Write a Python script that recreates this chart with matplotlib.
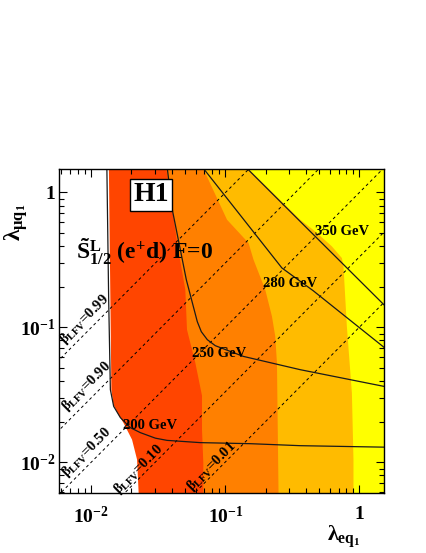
import numpy as np
import matplotlib
matplotlib.use('Agg')
import matplotlib.pyplot as plt
from matplotlib.ticker import NullFormatter

plt.rcParams['font.family'] = ['Liberation Serif', 'DejaVu Serif']
plt.rcParams['font.weight'] = 'bold'
plt.rcParams['mathtext.fontset'] = 'custom'
plt.rcParams['mathtext.rm'] = 'Liberation Serif:bold'
plt.rcParams['mathtext.it'] = 'Liberation Serif:bold'
plt.rcParams['mathtext.bf'] = 'Liberation Serif:bold'

XLIM = (0.0058, 1.52)
YLIM = (0.0059, 1.5)

# region edges, top -> bottom  (lambda_eq1, lambda_muq1)
white_red_x = [0.01357, 0.01392, 0.01416, 0.01465, 0.01597, 0.01740, 0.02019, 0.02201, 0.02262]
white_red_y = [1.5, 0.1603, 0.03455, 0.02676, 0.02256, 0.01968, 0.01473, 0.01047, 0.0059]

red_orange_x = [0.03636, 0.04029, 0.04467, 0.05037, 0.05184, 0.05977, 0.06707, 0.06707, 0.06859, 0.06859]
red_orange_y = [1.5, 0.7445, 0.3762, 0.1902, 0.0961, 0.0548, 0.0312, 0.01747, 0.00995, 0.0059]

orange_amber_x = [0.06859, 0.1030, 0.1491, 0.1624, 0.1985, 0.2227, 0.2357, 0.2427, 0.2494]
orange_amber_y = [1.5, 0.6279, 0.4218, 0.3171, 0.1902, 0.1207, 0.0858, 0.0545, 0.0059]

amber_yellow_x = [0.1483, 0.3618, 0.4679, 0.6232, 0.7393, 0.7601, 0.8055, 0.8780, 0.9022, 0.9022]
amber_yellow_y = [1.5, 0.6279, 0.5143, 0.3981, 0.3266, 0.2830, 0.1017, 0.03266, 0.01047, 0.0059]

# mass contours
m200_x = [0.01311, 0.01352, 0.01392, 0.01473, 0.01653, 0.01962, 0.02329, 0.03012, 0.0368, 0.06515, 0.1535, 0.3618, 1.52]
m200_y = [1.5, 0.1603, 0.03455, 0.02599, 0.02144, 0.01807, 0.0166, 0.01511, 0.01455, 0.0140, 0.01375, 0.01329, 0.01296]
m250_x = [0.03699, 0.04029, 0.04624, 0.05124, 0.05776, 0.06187, 0.06628, 0.07345, 0.08424, 0.1361, 0.3618, 1.52]
m250_y = [1.5, 0.7445, 0.3762, 0.2256, 0.1431, 0.1102, 0.0929, 0.0811, 0.0732, 0.0610, 0.0486, 0.03656]
m280_x = [0.06893, 0.2644, 0.4522, 1.52]
m280_y = [1.5, 0.2754, 0.1869, 0.0713]
m350_x = [0.1458, 0.4294, 1.52]
m350_y = [1.5, 0.5143, 0.1473]

mass_labels = ['200 GeV', '250 GeV', '280 GeV', '350 GeV']
mass_label_x = [0.02763, 0.0902, 0.3048, 0.7432]
mass_label_y = [0.0188, 0.0639, 0.2107, 0.5115]

beta_values = [0.99, 0.90, 0.50, 0.10, 0.01]
beta_label_x = [0.00892, 0.00923, 0.00923, 0.0225, 0.0787]
beta_label_y = [0.114, 0.0364, 0.0118, 0.00883, 0.00929]

xticks = [0.01, 0.1, 1]
xtick_labels = [r'$10^{-2}$', r'$10^{-1}$', '1']
yticks = [0.01, 0.1, 1]
ytick_labels = [r'$10^{-2}$', r'$10^{-1}$', '1']

fig = plt.figure(figsize=(4.27, 5.53), dpi=100)
ax = fig.add_axes([0.139, 0.108, 0.760, 0.587])
ax.set_xscale('log')
ax.set_yscale('log')
ax.set_xlim(*XLIM)
ax.set_ylim(*YLIM)
ax.set_facecolor('#ffff00')

far_left = 1e-3
far_low = 1e-3

def left_poly(bx, by, color):
    # everything left of an edge, clipped by the axes
    xs = list(bx) + [bx[-1], far_left, far_left]
    ys = list(by) + [far_low, far_low, by[0]]
    ax.fill(xs, ys, color=color, lw=0, zorder=1)

left_poly(amber_yellow_x, amber_yellow_y, '#ffbb00')
left_poly(orange_amber_x, orange_amber_y, '#ff8000')
left_poly(red_orange_x, red_orange_y, '#ff4500')
left_poly(white_red_x, white_red_y, '#ffffff')

# iso-beta lines: lambda_mu / lambda_e = sqrt(beta / (1 - beta))
xs = np.array([1e-3, 10.0])
for b in beta_values:
    r = np.sqrt(b / (1 - b))
    ax.plot(xs, xs * r, color='black', lw=0.7, dashes=(3, 3), zorder=2)

for mx, my in [(m200_x, m200_y), (m250_x, m250_y), (m280_x, m280_y), (m350_x, m350_y)]:
    ax.plot(mx, my, color='#1a1a1a', lw=0.9, zorder=3)

for lab, lx, ly in zip(mass_labels, mass_label_x, mass_label_y):
    ax.text(lx, ly, lab, fontsize=10.5, fontweight='bold', ha='center', va='center', zorder=4)

for b, lx, ly in zip(beta_values, beta_label_x, beta_label_y):
    ax.text(lx, ly, r'$\beta_{\mathrm{LFV}}$=%.2f' % b, fontsize=10.5, rotation=45,
            rotation_mode='anchor', ha='center', va='center', zorder=4)

ax.text(0.282, 0.919, 'H1', transform=ax.transAxes, fontsize=20, fontweight='bold',
        ha='center', va='center', zorder=5,
        bbox=dict(boxstyle='square,pad=0.12', fc='white', ec='black', lw=1.0))
ax.text(0.05, 0.745, r'$\tilde{\mathrm{S}}^{\mathrm{L}}_{1/2}$ (e$^{+}$d) F=0', transform=ax.transAxes,
        fontsize=17, fontweight='bold', ha='left', va='center', zorder=5)

ax.set_xticks(xticks, labels=xtick_labels)
ax.set_yticks(yticks, labels=ytick_labels)
ax.xaxis.set_minor_formatter(NullFormatter())
ax.yaxis.set_minor_formatter(NullFormatter())
ax.tick_params(which='both', direction='in', top=True, right=True, width=0.8, labelsize=14)
ax.tick_params(which='major', length=6)
ax.tick_params(which='minor', length=3.5)
ax.tick_params(axis='x', pad=9)
ax.tick_params(axis='y', pad=3)
for s in ax.spines.values():
    s.set_linewidth(1.0)
    s.set_zorder(6)

fig.text(0.004, 0.599, r'$\lambda_{\mu\mathrm{q}_1}$', fontsize=17, rotation=90, ha='left', va='center')
fig.text(0.806, 0.006, r'$\lambda_{\mathrm{eq}_1}$', fontsize=16, ha='center', va='bottom')

fig.savefig('out.png', dpi=100)
